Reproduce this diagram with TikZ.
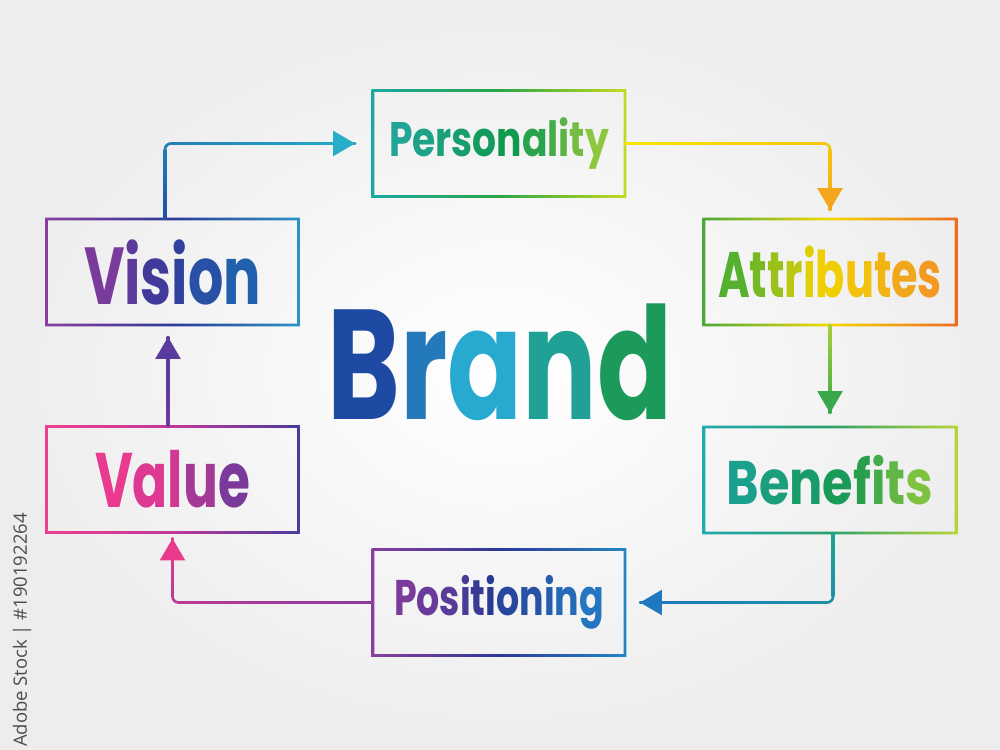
\documentclass[tikz,border=0pt]{standalone}
\usepackage{fontspec}
\usepackage{graphicx}
\usetikzlibrary{arrows.meta,calc}
\newfontfamily\handfont{Poppins}
\newfontfamily\markfont{Open Sans}

% frame colours (left, middle, right)
\definecolor{pfL}{HTML}{1BA8A0}\definecolor{pfM}{HTML}{2AA548}\definecolor{pfR}{HTML}{C6DA1E}
\definecolor{afL}{HTML}{4AA83A}\definecolor{afM}{HTML}{F4D800}\definecolor{afR}{HTML}{EE6A22}
\definecolor{bfL}{HTML}{22A8B0}\definecolor{bfM}{HTML}{2AA06A}\definecolor{bfR}{HTML}{B8D432}
\definecolor{qfL}{HTML}{8A3D9E}\definecolor{qfM}{HTML}{2D3896}\definecolor{qfR}{HTML}{2386C4}
\definecolor{wfL}{HTML}{EE3F8F}\definecolor{wfM}{HTML}{C2389A}\definecolor{wfR}{HTML}{4A3A9C}
\definecolor{vfL}{HTML}{8A3D9E}\definecolor{vfM}{HTML}{2D3A96}\definecolor{vfR}{HTML}{2A93C6}
% text colours
\definecolor{ptA}{HTML}{22A496}\definecolor{ptB}{HTML}{109A50}\definecolor{ptC}{HTML}{8DC63F}
\definecolor{atA}{HTML}{55B030}\definecolor{atB}{HTML}{F0D400}\definecolor{atC}{HTML}{F29A22}
\definecolor{btA}{HTML}{1BA08E}\definecolor{btB}{HTML}{19994F}\definecolor{btC}{HTML}{7EC241}
\definecolor{qtA}{HTML}{7A3B9B}\definecolor{qtB}{HTML}{283A94}\definecolor{qtC}{HTML}{2376BF}
\definecolor{wtA}{HTML}{EA3A90}\definecolor{wtB}{HTML}{D03894}\definecolor{wtC}{HTML}{7B3A9A}
\definecolor{vtA}{HTML}{7A3C9C}\definecolor{vtB}{HTML}{32399A}\definecolor{vtC}{HTML}{2160AC}
\definecolor{brA}{HTML}{1F4AA3}\definecolor{brB}{HTML}{27A9D0}\definecolor{brC}{HTML}{1B9A5C}
% connector colours
\definecolor{caA}{HTML}{1F4EA6}\definecolor{caB}{HTML}{26ADC8}\colorlet{caM}{caA!50!caB}
\definecolor{cbA}{HTML}{F6E600}\definecolor{cbB}{HTML}{F4A51C}\colorlet{cbM}{cbA!50!cbB}
\definecolor{ccA}{HTML}{A8CF3A}\definecolor{ccB}{HTML}{3AA84A}\colorlet{ccM}{ccA!50!ccB}
\definecolor{cdA}{HTML}{1CA58E}\definecolor{cdB}{HTML}{2078C0}\colorlet{cdM}{cdA!50!cdB}
\definecolor{ceA}{HTML}{8B3A9E}\definecolor{ceB}{HTML}{EA3A8E}\colorlet{ceM}{ceA!50!ceB}
\definecolor{cfA}{HTML}{6A3AA0}\definecolor{cfB}{HTML}{5A3A9E}\colorlet{cfM}{cfA!50!cfB}

\ExplSyntaxOn
\int_new:N \l_gt_n_int
\int_new:N \l_gt_i_int
\int_new:N \l_gt_p_int
\tl_new:N \l_gt_col_tl
\cs_new_protected:Npn \gt_letter:nnnn #1#2#3#4
  {
    \int_set:Nn \l_gt_p_int { \int_div_round:nn { 200 * \l_gt_i_int } { \l_gt_n_int - 1 } }
    \int_compare:nNnTF { \l_gt_p_int } < { 100 }
      { \tl_set:Nx \l_gt_col_tl { #2 ! \int_use:N \l_gt_p_int ! #1 } }
      { \tl_set:Nx \l_gt_col_tl { #3 ! \int_eval:n { \l_gt_p_int - 100 } ! #2 } }
    \exp_args:NV \textcolor \l_gt_col_tl { #4 }
  }
\NewDocumentCommand \gradtext { m m m m }
  {
    \int_set:Nn \l_gt_n_int { \tl_count:n { #4 } }
    \int_zero:N \l_gt_i_int
    \tl_map_inline:nn { #4 }
      {
        \gt_letter:nnnn { #1 } { #2 } { #3 } { ##1 }
        \int_incr:N \l_gt_i_int
      }
  }
\ExplSyntaxOff

% width, font size, colours A B C, word
\newcommand\wordtext[6]{\resizebox{#1}{\height}{\fontsize{#2}{#2}\selectfont\handfont\bfseries\gradtext{#3}{#4}{#5}{#6}}}

% gradient ring frame round a node
\newcommand\ringframe[4]{%
  \shade[even odd rule, left color=#2, right color=#4, middle color=#3]
    ([shift={(-1.3,-1.3)}]#1.north west) rectangle ([shift={(1.3,1.3)}]#1.south east)
    ([shift={(1.3,1.3)}]#1.north west) rectangle ([shift={(-1.3,-1.3)}]#1.south east);}

% gradient overlays for straight legs: horizontal (left pt, right pt) and vertical (top pt, bottom pt)
\newcommand\hseg[4]{\shade[left color=#3, right color=#4] ([yshift=-0.75pt]#1) rectangle ([yshift=0.75pt]#2);}
\newcommand\vseg[4]{\shade[top color=#3, bottom color=#4] ([xshift=-0.75pt]#1) rectangle ([xshift=0.75pt]#2);}

\tikzset{
  box/.style={minimum width=5.04cm, minimum height=2.12cm, inner sep=0pt, outer sep=0pt},
  conn/.style={line width=1.5pt, line cap=round, line join=round},
  base/.style={conn, rounded corners=0.12cm},
  tip/.style={conn, -{Triangle[length=0.44cm,width=0.5cm]}}
}

\begin{document}
\begin{tikzpicture}[x=0.02cm,y=-0.02cm]
\useasboundingbox (0,0) rectangle (1000,750);
\shade[inner color=white, outer color=black!7] (0,0) rectangle (1000,750);

% boxes
\node[box] (personality) at (499,143.5) {\wordtext{4.4cm}{27.6}{ptA}{ptB}{ptC}{Personality}};
\node[box] (attributes) at (830,272) {\wordtext{4.48cm}{36.6}{atA}{atB}{atC}{Attributes}};
\node[box] (benefits) at (830,480) {\wordtext{4.14cm}{35}{btA}{btB}{btC}{Benefits}};
\node[box] (positioning) at (499,602.5) {\wordtext{4.2cm}{28.5}{qtA}{qtB}{qtC}{Positioning}};
\node[box] (value) at (172.5,479.5) {\wordtext{3.1cm}{44}{wtA}{wtB}{wtC}{Value}};
\node[box] (vision) at (172.5,272) {\wordtext{3.54cm}{46}{vtA}{vtB}{vtC}{Vision}};

\node[inner sep=0pt] (brand) at (500,362) {\wordtext{6.9cm}{89}{brA}{brB}{brC}{Brand}};

\ringframe{personality}{pfL}{pfM}{pfR}
\ringframe{attributes}{afL}{afM}{afR}
\ringframe{benefits}{bfL}{bfM}{bfR}
\ringframe{positioning}{qfL}{qfM}{qfR}
\ringframe{value}{wfL}{wfM}{wfR}
\ringframe{vision}{vfL}{vfM}{vfR}

% connector end points
\coordinate (s1) at ([xshift=-0.15cm]vision.north);
\coordinate (e1) at ([xshift=-0.36cm]personality.west);
\coordinate (k1) at (s1 |- e1);
\coordinate (s2) at (personality.east);
\coordinate (e2) at ([yshift=0.18cm]attributes.north);
\coordinate (k2) at (e2 |- s2);
\coordinate (s3) at (attributes.south);
\coordinate (e3) at ([yshift=0.28cm]benefits.north);
\coordinate (s4) at ([xshift=0.06cm]benefits.south);
\coordinate (e4) at ([xshift=0.3cm]positioning.east);
\coordinate (k4) at (s4 |- e4);
\coordinate (s5) at (positioning.west);
\coordinate (e5) at ([yshift=-0.12cm]value.south);
\coordinate (k5) at (e5 |- s5);
\coordinate (s6) at ([xshift=-0.09cm]value.north);
\coordinate (e6) at ([xshift=-0.09cm,yshift=-0.24cm]vision.south);
% points just before / after each corner
\coordinate (k1a) at ($(k1)!0.12cm!(s1)$); \coordinate (k1b) at ($(k1)!0.12cm!(e1)$);
\coordinate (k2a) at ($(k2)!0.12cm!(s2)$); \coordinate (k2b) at ($(k2)!0.12cm!(e2)$);
\coordinate (k4a) at ($(k4)!0.12cm!(s4)$); \coordinate (k4b) at ($(k4)!0.12cm!(e4)$);
\coordinate (k5a) at ($(k5)!0.12cm!(s5)$); \coordinate (k5b) at ($(k5)!0.12cm!(e5)$);

% connectors: base stroke, gradient overlay, arrowhead
\draw[base, caM] (s1) |- (e1);
\vseg{k1a}{s1}{caM}{caA}\hseg{k1b}{e1}{caM}{caB}
\draw[tip, caB] ($(k1)!0.9!(e1)$) -- (e1);

\draw[base, cbM] (s2) -| (e2);
\hseg{s2}{k2a}{cbA}{cbM}\vseg{k2b}{e2}{cbM}{cbB}
\draw[tip, cbB] ($(k2)!0.8!(e2)$) -- (e2);

\draw[base, ccM] (s3) -- (e3);
\vseg{s3}{e3}{ccA}{ccB}
\draw[tip, ccB] ($(s3)!0.8!(e3)$) -- (e3);

\draw[base, cdM] (s4) |- (e4);
\vseg{s4}{k4a}{cdA}{cdM}\hseg{e4}{k4b}{cdB}{cdM}
\draw[tip, cdB] ($(k4)!0.9!(e4)$) -- (e4);

\draw[base, ceM] (s5) -| (e5);
\hseg{k5a}{s5}{ceM}{ceA}\vseg{e5}{k5b}{ceB}{ceM}
\draw[tip, ceB] ($(k5)!0.8!(e5)$) -- (e5);

\draw[base, cfM] (s6) -- (e6);
\vseg{e6}{s6}{cfB}{cfA}
\draw[tip, cfB] ($(s6)!0.8!(e6)$) -- (e6);

% side label
\node[rotate=90, text=black!70, inner sep=0pt, font=\markfont\fontsize{10.5}{10.5}\selectfont] (stockid) at (22,630) {Adobe Stock | \#190192264};
\end{tikzpicture}
\end{document}
